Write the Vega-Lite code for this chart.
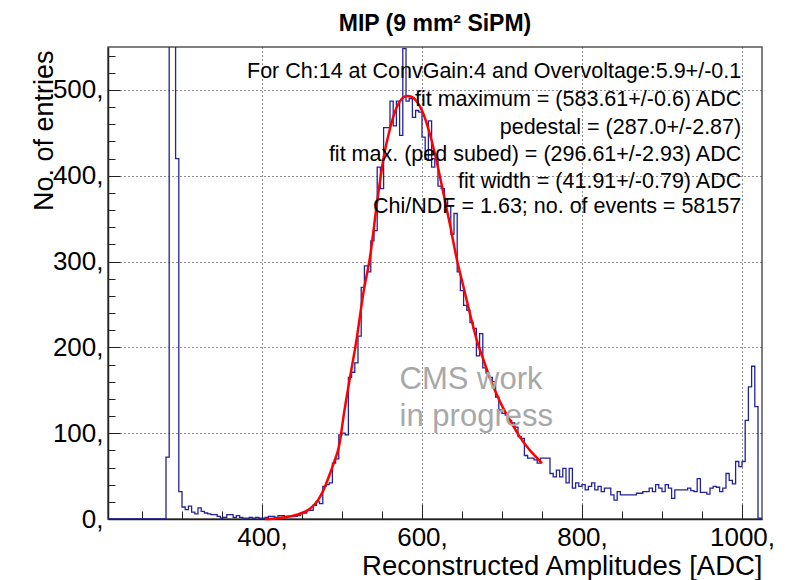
{
  "$schema": "https://vega.github.io/schema/vega-lite/v6.json",
  "width": 654,
  "height": 472,
  "autosize": {"type": "none"},
  "padding": {"left": 108, "top": 47, "right": 38, "bottom": 61},
  "background": "white",
  "title": {"text": "MIP (9 mm² SiPM)", "font": "Liberation Sans", "fontSize": 23, "fontWeight": "bold", "color": "#000", "anchor": "middle", "baseline": "alphabetic", "offset": -11},
  "config": {
    "view": {"stroke": "#555", "strokeWidth": 1.5},
    "font": "Liberation Sans"
  },
  "encoding": {
    "x": {
      "field": "x", "type": "quantitative",
      "scale": {"domain": [207.5, 1025], "nice": false, "zero": false},
      "axis": {
        "title": "Reconstructed Amplitudes [ADC]",
        "values": [250, 300, 350, 400, 450, 500, 550, 600, 650, 700, 750, 800, 850, 900, 950, 1000],
        "labelExpr": "datum.value % 200 === 0 ? datum.value + ',' : ''",
        "tickSize": {"condition": {"test": "datum.value % 200 === 0", "value": -15}, "value": -8},
        "labelPadding": 20,
        "grid": true,
        "gridOpacity": {"condition": {"test": "datum.value % 200 === 0", "value": 1}, "value": 0},
        "gridDash": [1, 3], "gridColor": "#222", "gridWidth": 1,
        "domainColor": "#222", "domainWidth": 1.5, "tickColor": "#222", "tickWidth": 1,
        "labelFont": "Liberation Sans", "labelFontSize": 26, "labelColor": "#000",
        "labelFlush": false, "labelOverlap": false, "labelBound": false,
        "titleFont": "Liberation Sans", "titleFontSize": 27.5, "titleFontWeight": "normal", "titleColor": "#000",
        "titleAnchor": "end", "titleAlign": "right", "titleBaseline": "alphabetic", "titleX": 654, "titleY": 55
      }
    },
    "y": {
      "field": "y", "type": "quantitative",
      "scale": {"domain": [0, 550], "nice": false, "zero": true},
      "axis": {
        "title": "No. of entries",
        "values": [0, 20, 40, 60, 80, 100, 120, 140, 160, 180, 200, 220, 240, 260, 280, 300, 320, 340, 360, 380, 400, 420, 440, 460, 480, 500, 520, 540],
        "labelExpr": "datum.value % 100 === 0 ? datum.value + ',' : ''",
        "tickSize": {"condition": {"test": "datum.value % 100 === 0", "value": -12}, "value": -7},
        "labelPadding": 17,
        "grid": true,
        "gridOpacity": {"condition": {"test": "datum.value % 100 === 0 && datum.value > 0", "value": 1}, "value": 0},
        "gridDash": [1, 3], "gridColor": "#222", "gridWidth": 1,
        "domainColor": "#222", "domainWidth": 1.5, "tickColor": "#222", "tickWidth": 1,
        "labelFont": "Liberation Sans", "labelFontSize": 26, "labelColor": "#000",
        "labelFlush": false, "labelOverlap": false, "labelBound": false,
        "titleFont": "Liberation Sans", "titleFontSize": 27, "titleFontWeight": "normal", "titleColor": "#000",
        "titleAnchor": "end", "titleAlign": "right", "titleBaseline": "alphabetic", "titleAngle": -90, "titleX": -56, "titleY": 3
      }
    }
  },
  "layer": [
    {
      "data": {"values": [
        {"x": 207.5, "y": 0}, {"x": 280, "y": 72}, {"x": 284, "y": 2500}, {"x": 288, "y": 2500}, {"x": 292, "y": 420}, {"x": 296, "y": 32},
        {"x": 300, "y": 14}, {"x": 304, "y": 11}, {"x": 308, "y": 15}, {"x": 312, "y": 8}, {"x": 316, "y": 6}, {"x": 320, "y": 13},
        {"x": 324, "y": 9}, {"x": 328, "y": 7}, {"x": 332, "y": 6}, {"x": 336, "y": 5}, {"x": 340, "y": 5}, {"x": 344, "y": 3},
        {"x": 348, "y": 1}, {"x": 352, "y": 2}, {"x": 356, "y": 5}, {"x": 360, "y": 5}, {"x": 364, "y": 2}, {"x": 368, "y": 4},
        {"x": 372, "y": 2}, {"x": 376, "y": 1}, {"x": 380, "y": 1}, {"x": 384, "y": 2}, {"x": 388, "y": 1}, {"x": 392, "y": 2},
        {"x": 396, "y": 1}, {"x": 400, "y": 1}, {"x": 404, "y": 2}, {"x": 408, "y": 3}, {"x": 412, "y": 3}, {"x": 416, "y": 2},
        {"x": 420, "y": 4}, {"x": 424, "y": 4}, {"x": 428, "y": 3}, {"x": 432, "y": 3}, {"x": 436, "y": 3}, {"x": 440, "y": 3},
        {"x": 444, "y": 4}, {"x": 448, "y": 7}, {"x": 452, "y": 7}, {"x": 456, "y": 10}, {"x": 460, "y": 10}, {"x": 464, "y": 16},
        {"x": 468, "y": 20}, {"x": 472, "y": 18}, {"x": 476, "y": 38}, {"x": 480, "y": 40}, {"x": 484, "y": 42}, {"x": 488, "y": 65},
        {"x": 492, "y": 70}, {"x": 496, "y": 98}, {"x": 500, "y": 100}, {"x": 504, "y": 98}, {"x": 508, "y": 165}, {"x": 512, "y": 171},
        {"x": 516, "y": 182}, {"x": 520, "y": 213}, {"x": 524, "y": 270}, {"x": 528, "y": 295}, {"x": 532, "y": 288}, {"x": 536, "y": 324},
        {"x": 540, "y": 336}, {"x": 544, "y": 410}, {"x": 548, "y": 385}, {"x": 552, "y": 456}, {"x": 556, "y": 456}, {"x": 560, "y": 487},
        {"x": 564, "y": 458}, {"x": 568, "y": 487}, {"x": 572, "y": 447}, {"x": 576, "y": 548}, {"x": 580, "y": 487}, {"x": 584, "y": 490},
        {"x": 588, "y": 468}, {"x": 592, "y": 476}, {"x": 596, "y": 474}, {"x": 600, "y": 445}, {"x": 604, "y": 419}, {"x": 608, "y": 464},
        {"x": 612, "y": 410}, {"x": 616, "y": 420}, {"x": 620, "y": 388}, {"x": 624, "y": 385}, {"x": 628, "y": 373}, {"x": 632, "y": 365},
        {"x": 636, "y": 332}, {"x": 640, "y": 356}, {"x": 644, "y": 288}, {"x": 648, "y": 266}, {"x": 652, "y": 249}, {"x": 656, "y": 243},
        {"x": 660, "y": 229}, {"x": 664, "y": 222}, {"x": 668, "y": 190}, {"x": 672, "y": 216}, {"x": 676, "y": 176}, {"x": 680, "y": 170},
        {"x": 684, "y": 165}, {"x": 688, "y": 160}, {"x": 692, "y": 142}, {"x": 696, "y": 127}, {"x": 700, "y": 123}, {"x": 704, "y": 121},
        {"x": 708, "y": 115}, {"x": 712, "y": 112}, {"x": 716, "y": 107}, {"x": 720, "y": 96}, {"x": 724, "y": 94}, {"x": 728, "y": 74},
        {"x": 732, "y": 71}, {"x": 736, "y": 71}, {"x": 740, "y": 69}, {"x": 744, "y": 65}, {"x": 748, "y": 71}, {"x": 752, "y": 71},
        {"x": 756, "y": 71}, {"x": 760, "y": 53}, {"x": 764, "y": 49}, {"x": 768, "y": 57}, {"x": 772, "y": 49}, {"x": 776, "y": 59},
        {"x": 780, "y": 42}, {"x": 784, "y": 59}, {"x": 788, "y": 36}, {"x": 792, "y": 42}, {"x": 796, "y": 38}, {"x": 800, "y": 40},
        {"x": 804, "y": 34}, {"x": 808, "y": 38}, {"x": 812, "y": 42}, {"x": 816, "y": 34}, {"x": 820, "y": 38}, {"x": 824, "y": 32},
        {"x": 828, "y": 36}, {"x": 832, "y": 36}, {"x": 836, "y": 28}, {"x": 840, "y": 22}, {"x": 844, "y": 32}, {"x": 848, "y": 28},
        {"x": 852, "y": 28}, {"x": 856, "y": 28}, {"x": 860, "y": 28}, {"x": 864, "y": 28}, {"x": 868, "y": 30}, {"x": 872, "y": 30},
        {"x": 876, "y": 32}, {"x": 880, "y": 32}, {"x": 884, "y": 36}, {"x": 888, "y": 32}, {"x": 892, "y": 40}, {"x": 896, "y": 36},
        {"x": 900, "y": 32}, {"x": 904, "y": 40}, {"x": 908, "y": 36}, {"x": 912, "y": 24}, {"x": 916, "y": 34}, {"x": 920, "y": 34},
        {"x": 924, "y": 34}, {"x": 928, "y": 34}, {"x": 932, "y": 36}, {"x": 936, "y": 33}, {"x": 940, "y": 32}, {"x": 944, "y": 47},
        {"x": 948, "y": 31}, {"x": 952, "y": 31}, {"x": 956, "y": 29}, {"x": 960, "y": 36}, {"x": 964, "y": 38}, {"x": 968, "y": 37},
        {"x": 972, "y": 32}, {"x": 976, "y": 36}, {"x": 980, "y": 53}, {"x": 984, "y": 45}, {"x": 988, "y": 41}, {"x": 992, "y": 67},
        {"x": 996, "y": 61}, {"x": 1000, "y": 67}, {"x": 1004, "y": 115}, {"x": 1008, "y": 154}, {"x": 1012, "y": 178}, {"x": 1016, "y": 131},
        {"x": 1020, "y": 1}, {"x": 1024, "y": 0}
      ]},
      "mark": {"type": "line", "interpolate": "step-after", "color": "#22229a", "strokeWidth": 1.3, "clip": true}
    },
    {
      "data": {"values": [
        {"x": 404, "y": 0}, {"x": 420, "y": 1}, {"x": 440, "y": 4}, {"x": 450, "y": 7}, {"x": 460, "y": 12}, {"x": 470, "y": 22},
        {"x": 477, "y": 34}, {"x": 485, "y": 53}, {"x": 490, "y": 66}, {"x": 497, "y": 88}, {"x": 502, "y": 120}, {"x": 510, "y": 165},
        {"x": 518, "y": 208}, {"x": 527, "y": 265}, {"x": 535, "y": 305}, {"x": 544, "y": 370}, {"x": 552, "y": 421}, {"x": 560, "y": 455},
        {"x": 568, "y": 479}, {"x": 575, "y": 490}, {"x": 581, "y": 493}, {"x": 587, "y": 492}, {"x": 593, "y": 487}, {"x": 600, "y": 476},
        {"x": 610, "y": 448}, {"x": 618, "y": 418}, {"x": 626, "y": 383}, {"x": 635, "y": 343}, {"x": 643, "y": 305}, {"x": 652, "y": 270},
        {"x": 660, "y": 239}, {"x": 668, "y": 210}, {"x": 677, "y": 185}, {"x": 685, "y": 164}, {"x": 693, "y": 146}, {"x": 701, "y": 130},
        {"x": 710, "y": 115}, {"x": 722, "y": 96}, {"x": 735, "y": 80}, {"x": 742, "y": 73}, {"x": 750, "y": 65}
      ]},
      "mark": {"type": "line", "interpolate": "monotone", "color": "#ff0000", "strokeWidth": 2.5}
    },
    {
      "data": {"values": [
        {"x": 999, "y": 514, "t": "For Ch:14 at ConvGain:4 and Overvoltage:5.9+/-0.1"},
        {"x": 999, "y": 481, "t": "fit maximum = (583.61+/-0.6) ADC"},
        {"x": 999, "y": 449, "t": "pedestal = (287.0+/-2.87)"},
        {"x": 999, "y": 417, "t": "fit max. (ped subed) = (296.61+/-2.93) ADC"},
        {"x": 999, "y": 386, "t": "fit width = (41.91+/-0.79) ADC"},
        {"x": 999, "y": 356, "t": "Chi/NDF = 1.63; no. of events = 58157"}
      ]},
      "mark": {"type": "text", "align": "right", "baseline": "alphabetic", "font": "Liberation Sans", "fontSize": 21.5, "color": "#000"},
      "encoding": {"text": {"field": "t"}}
    },
    {
      "data": {"values": [
        {"x": 572, "y": 152, "t": "CMS work"},
        {"x": 572, "y": 108, "t": "in progress"}
      ]},
      "mark": {"type": "text", "align": "left", "baseline": "alphabetic", "font": "Liberation Sans", "fontSize": 31, "color": "#a8a8a8"},
      "encoding": {"text": {"field": "t"}}
    }
  ]
}
